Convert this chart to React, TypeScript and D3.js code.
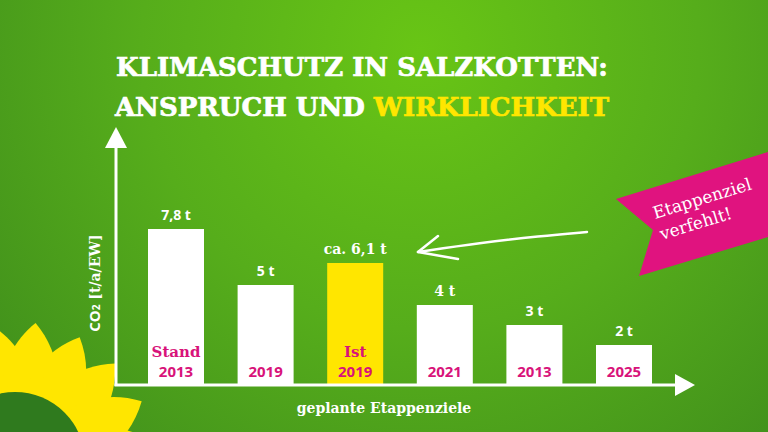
import React from "react";
import * as d3 from "d3";

const categoryLines: string[][] = [["Stand", "2013"], ["2019"], ["Ist", "2019"], ["2021"], ["2013"], ["2025"]];
const categoryKeys = ["Stand 2013", "2019", "Ist 2019", "2021", "2013b", "2025"];
const values = [7.8, 5, 6.1, 4, 3, 2];
const valueLabels = ["7,8 t", "5 t", "ca. 6,1 t", "4 t", "3 t", "2 t"];
const highlightKey = "Ist 2019";
const titleLine1 = "KLIMASCHUTZ IN SALZKOTTEN:";
const titleLine2a = "ANSPRUCH UND ";
const titleLine2b = "WIRKLICHKEIT";
const xAxisLabel = "geplante Etappenziele";
const bannerLines = ["Etappenziel", "verfehlt!"];

const W = 768, H = 432;
const SLAB = "'DejaVu Serif', serif";
const SANS = "'Open Sans', 'DejaVu Sans', sans-serif";
const MAGENTA = "#d8137a";
const YELLOW = "#ffe600";

export default function App() {
  const x = d3.scaleBand<string>().domain(categoryKeys).range([148, 652]).paddingInner(0.375).paddingOuter(0);
  const y = d3.scaleLinear().domain([0, 10]).range([385, 185]);
  const base = y(0);
  const axisX = 116;

  const fc = { x: 15, y: 462 };
  const petalAngles = [-96, -77, -58, -40, -21, -3];
  const innerAngles = [-86, -67, -49, -30, -12, 6];
  // leaf-shaped petal with a slightly hooked tip
  const petal = (len: number, w: number) =>
    `M0,${-w * 0.5} C${len * 0.3},${-w * 1.2} ${len * 0.7},${-w * 1.1} ${len},${-w * 0.35} ` +
    `C${len * 0.8},${w * 0.5} ${len * 0.45},${w * 1.1} 0,${w * 0.6} Z`;

  const arrowPath = d3.line().curve(d3.curveBasis)([
    [587, 232], [540, 236], [480, 243], [418, 252],
  ]) as string;

  return (
    <svg width={W} height={H} style={{ position: "absolute", left: 0, top: 0, display: "block" }}>
      <defs>
        <radialGradient id="bg" gradientUnits="userSpaceOnUse" cx={420} cy={50} r={620}>
          <stop offset="0" stopColor="#68c515" />
          <stop offset="0.45" stopColor="#56ad1b" />
          <stop offset="1" stopColor="#3a871c" />
        </radialGradient>
      </defs>
      <rect x={0} y={0} width={W} height={H} fill="url(#bg)" />

      {/* sunflower */}
      <g transform={`translate(${fc.x},${fc.y})`}>
        {petalAngles.map((a, i) => (
          <path key={"p" + i} d={petal(102, 32)} transform={`rotate(${a}) translate(38,0)`} fill={YELLOW} />
        ))}
        {innerAngles.map((a, i) => (
          <path key={"s" + i} d={petal(42, 14)} transform={`rotate(${a}) translate(50,0)`} fill={YELLOW} />
        ))}
        <circle r={70} fill="#2f7a1e" />
      </g>

      {/* title */}
      <g fontFamily={SLAB} fontWeight={700} fontSize={26} fill="#fff" stroke="#fff" strokeWidth={0.7} textAnchor="middle">
        <text x={362} y={76}>{titleLine1}</text>
        <text x={362} y={116}>
          <tspan>{titleLine2a}</tspan>
          <tspan fill={YELLOW} stroke={YELLOW}>{titleLine2b}</tspan>
        </text>
      </g>

      {/* bars */}
      {categoryKeys.map((k, i) => {
        const bx = x(k)!;
        const top = y(values[i]);
        const cx = bx + x.bandwidth() / 2;
        const lines = categoryLines[i];
        const slabVal = i === 2 || i === 3;
        return (
          <g key={k}>
            <rect x={bx} y={top} width={x.bandwidth()} height={base - top} fill={k === highlightKey ? YELLOW : "#fff"} />
            <text x={cx} y={top - 9} textAnchor="middle" fill="#fff" fontWeight={700} fontSize={14}
              fontFamily={slabVal ? SLAB : SANS}>
              {valueLabels[i]}
            </text>
            {lines.map((ln, j) => (
              <text key={j} x={cx} y={377 - (lines.length - 1 - j) * 20} textAnchor="middle" fill={MAGENTA}
                fontWeight={700} fontSize={15}
                fontFamily={/^\d+$/.test(ln) ? SANS : SLAB}>
                {ln}
              </text>
            ))}
          </g>
        );
      })}

      {/* axes */}
      <line x1={axisX} y1={386} x2={axisX} y2={145} stroke="#fff" strokeWidth={3} />
      <path d={`M${axisX},127 L${axisX + 11},148 L${axisX - 11},148 Z`} fill="#fff" />
      <line x1={axisX - 1.5} y1={base} x2={678} y2={base} stroke="#fff" strokeWidth={3} />
      <path d={`M695,${base} L675,${base - 11} L675,${base + 11} Z`} fill="#fff" />

      {/* axis labels */}
      <text transform={`translate(100,283) rotate(-90)`} textAnchor="middle" fill="#fff" fontWeight={700} fontSize={15}>
        <tspan fontFamily={SANS}>CO</tspan>
        <tspan fontFamily={SANS} fontSize={10}>2</tspan>
        <tspan fontFamily={SLAB} fontSize={14}> [t/a/EW]</tspan>
      </text>
      <text x={384} y={413} textAnchor="middle" fill="#fff" fontWeight={700} fontSize={14} fontFamily={SLAB}>
        {xAxisLabel}
      </text>

      {/* hand-drawn arrow */}
      <path d={arrowPath} fill="none" stroke="#fff" strokeWidth={2.5} strokeLinecap="round" />
      <path d="M438,236 L418,252 L458,259" fill="none" stroke="#fff" strokeWidth={2.5} strokeLinecap="round" strokeLinejoin="round" />

      {/* banner */}
      <polygon points="616,199 768,152 768,237 639,276 653,230" fill="#e0137f" />
      <text transform="translate(655,219) rotate(-17)" fill="#fff" fontFamily={SLAB} fontSize={17}>{bannerLines[0]}</text>
      <text transform="translate(662,240) rotate(-17)" fill="#fff" fontFamily={SLAB} fontSize={17}>{bannerLines[1]}</text>
    </svg>
  );
}
